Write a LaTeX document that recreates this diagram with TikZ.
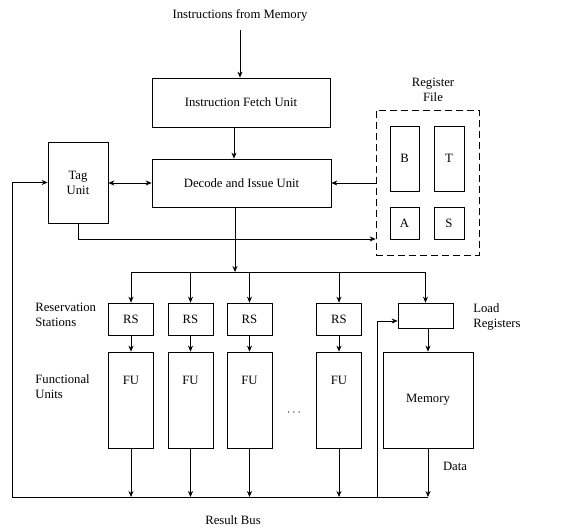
\documentclass[tikz,border=0pt]{standalone}
\usepackage{fontspec}
\setmainfont{Liberation Serif}
\usetikzlibrary{arrows.meta}
\begin{document}
\begin{tikzpicture}[x=1pt,y=-1pt,
  font=\fontsize{12.7}{15}\selectfont,
  line width=0.7pt,
  box/.style={draw,rectangle,inner sep=0pt,align=center},
  conn/.style={-{Stealth[length=6pt,width=5pt]}},
  both/.style={{Stealth[length=6pt,width=5pt]}-{Stealth[length=6pt,width=5pt]}},
  lbl/.style={align=left,anchor=west,inner sep=0pt},
  clbl/.style={align=center,inner sep=0pt}]
\useasboundingbox (0,0) rectangle (575,528);

% top
\node[clbl] (imem) at (240,15) {Instructions from Memory};
\node[box,minimum width=178pt,minimum height=49pt] (ifu) at (241,102.5) {Instruction Fetch Unit};
\node[box,minimum width=179pt,minimum height=48pt] (diu) at (241.5,183) {Decode and Issue Unit};
\node[box,minimum width=60pt,minimum height=81pt] (tag) at (78,182.5) {Tag\\Unit};

% register file
\node[box,dashed,dash pattern=on 7pt off 4pt,minimum width=103pt,minimum height=145pt] (rf) at (427.5,182.5) {};
\node[clbl] (rflbl) at (433,89.5) {Register\\File};
\node[box,minimum width=29pt,minimum height=65pt] (regB) at (404.5,158.5) {B};
\node[box,minimum width=30pt,minimum height=65pt] (regT) at (449,158.5) {T};
\node[box,minimum width=29pt,minimum height=32pt] (regA) at (404.5,223) {A};
\node[box,minimum width=30pt,minimum height=32pt] (regS) at (449,223) {S};

% reservation stations & functional units
\foreach \i/\x in {1/131,2/190.5,3/249.5,4/339}{
  \node[box,minimum width=45pt,minimum height=32pt] (rs\i) at (\x,319) {RS};
  \node[box,minimum width=45pt,minimum height=96pt,label={[yshift=20pt]center:FU}] (fu\i) at (\x,400) {};
}
\node[box,minimum width=55pt,minimum height=25pt] (ldr) at (425.5,315.5) {};
\node[box,minimum width=90pt,minimum height=96pt] (mem) at (428,400) {Memory};

% side labels
\node[lbl] (rslbl) at (35,314.5) {Reservation\\Stations};
\node[lbl] (fulbl) at (35,387) {Functional\\Units};
\node[lbl] (ldlbl) at (473,317) {Load\\Registers};
\node[clbl] (datalbl) at (455,466) {Data};
\node[clbl] (rblbl) at (233,520) {Result Bus};
\node[clbl] (dots) at (294,413) {$\cdots$};

% coordinates
\coordinate (dl) at (0,272);
\coordinate (bus) at (0,497);
\coordinate (leftx) at (12,0);
\coordinate (ldx) at (377,0);
\coordinate (tagy) at (0,239);

% connectors
\draw[conn] (240,30) -- (ifu.north -| 240,0);
\draw[conn] (ifu.south -| 234,0) -- (diu.north -| 234,0);
\draw[both] (tag.east |- diu.west) -- (diu.west);
\draw[conn] (rf.west |- diu.east) -- (diu.east);
\draw[conn] (tag.south -| 78,0) -- (78,239) -- (rf.west |- tagy);
\draw[conn] (diu.south -| 235,0) -- (235,272);
\draw (rs1.north |- dl) -- (ldr.north |- dl);
\foreach \i in {1,2,3,4}{
  \draw[conn] (rs\i.north |- dl) -- (rs\i.north);
  \draw[conn] (rs\i.south) -- (fu\i.north);
  \draw[conn] (fu\i.south) -- (fu\i.south |- bus);
}
\draw[conn] (ldr.north |- dl) -- (ldr.north);
\draw[conn] (ldr.south -| mem.north) -- (mem.north);
\draw[conn] (mem.south) -- (mem.south |- bus);
\draw (leftx |- bus) -- (mem.south |- bus);
\draw[conn] (leftx |- bus) -- (leftx |- tag.west) -- (tag.west);
\draw[conn] (ldx |- bus) -- (377,321) -- (ldr.west |- 0,321);
\end{tikzpicture}
\end{document}
